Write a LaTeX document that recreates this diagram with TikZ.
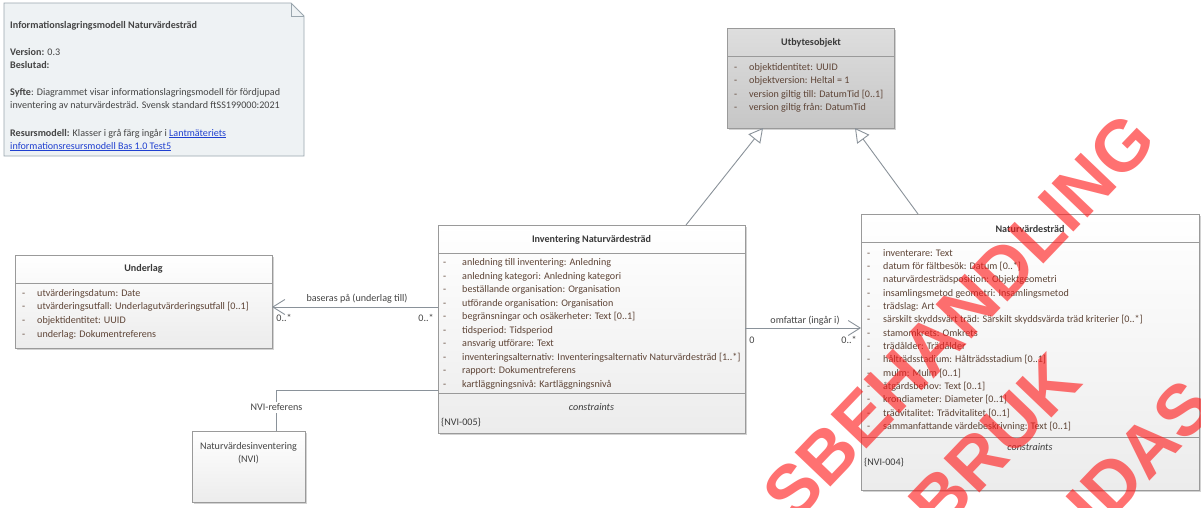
\documentclass[tikz,border=0pt]{standalone}
\usepackage{fontspec}
\setmainfont{Carlito}
\newfontfamily\wmfont{Liberation Sans}
\usetikzlibrary{arrows.meta,shadows}

\definecolor{bordercol}{HTML}{9A9A9A}
\definecolor{conncol}{HTML}{8A929A}
\definecolor{titlecol}{HTML}{3A3A3A}
\definecolor{attrcol}{HTML}{5E4436}
\definecolor{notefill}{HTML}{EEF2F4}
\definecolor{noteborder}{HTML}{9AA6AE}
\definecolor{notetext}{HTML}{454545}
\definecolor{linkcol}{HTML}{2040D0}
\definecolor{wmred}{HTML}{FF1A1A}
\definecolor{clsbottom}{HTML}{ECECEC}
\definecolor{graytop}{HTML}{DEDEDE}
\definecolor{graybottom}{HTML}{C6C6C6}

\newcommand\umlfont{\fontsize{10.1}{12}\selectfont}
\newcommand\wmsize{\fontsize{72}{72}\selectfont}

\begin{document}
\begin{tikzpicture}[x=1pt,y=-1pt,
  cls/.style={draw=bordercol, line width=0.8pt, rectangle, inner sep=0pt, outer sep=0pt,
    anchor=north west, top color=white, bottom color=clsbottom,
    drop shadow={shadow xshift=2pt, shadow yshift=-2pt, opacity=0.35, fill=gray}},
  graycls/.style={cls, top color=graytop, bottom color=graybottom},
  divider/.style={draw=bordercol, line width=0.8pt},
  ctitle/.style={font=\umlfont\bfseries, text=titlecol, inner sep=0pt},
  attr/.style={font=\umlfont, text=attrcol, inner sep=0pt, anchor=base west},
  dashmark/.style={font=\umlfont, text=attrcol, inner sep=0pt, anchor=base west},
  ctext/.style={font=\umlfont, text=titlecol, inner sep=0pt},
  notetxt/.style={font=\umlfont, text=notetext, inner sep=0pt, anchor=base west},
  conn/.style={draw=conncol, line width=0.9pt},
  gen/.style={conn, -{Triangle[length=14pt,width=15pt,fill=white,line width=0.9pt]}},
  assoc/.style={conn, -{Straight Barb[length=12pt,width=15pt,line width=0.9pt]}},
  clabel/.style={font=\umlfont, text=notetext, inner sep=1pt},
  wm/.style={font=\wmfont\bfseries\wmsize, text=wmred, text opacity=0.62, inner sep=0pt}
]
\useasboundingbox (0,0) rectangle (1201,507);
\fill[white] (0,0) rectangle (1201,507);
\clip (0,0) rectangle (1201,507);

% ---- information note with folded corner ----
\filldraw[fill=notefill, draw=noteborder, line width=0.8pt]
  (4,3) -- (291,3) -- (304,16) -- (304,156) -- (4,156) -- cycle;
\draw[draw=noteborder, line width=0.8pt] (291,3) -- (291,16) -- (304,16);
\node[notetxt] (n1) at (10,28) {\bfseries Informationslagringsmodell Naturvärdesträd};
\node[notetxt] (n2) at (10,55.5) {\textbf{Version:} 0.3};
\node[notetxt] (n3) at (10,68.5) {\textbf{Beslutad:}};
\node[notetxt] (n4) at (10,95) {\textbf{Syfte}: Diagrammet visar informationslagringsmodell för fördjupad};
\node[notetxt] (n5) at (10,108) {inventering av naturvärdesträd. Svensk standard ftSS199000:2021};
\node[notetxt] (n6) at (10,136) {\textbf{Resursmodell:} Klasser i grå färg ingår i \textcolor{linkcol}{\underline{Lantmäteriets}}};
\node[notetxt] (n7) at (10,149) {\textcolor{linkcol}{\underline{informationsresursmodell Bas 1.0 Test5}}};

% ---- Utbytesobjekt ----
\node[graycls, minimum width=167, minimum height=100] (utb) at (727,28) {};
\draw[divider] ([yshift=-28pt]utb.north west) -- ([yshift=-28pt]utb.north east);
\node[ctitle] (utb-t) at (811,43) {Utbytesobjekt};
\foreach \t [count=\i] in {objektidentitet: UUID, objektversion: Heltal = 1,
    version giltig till: DatumTid [0..1], version giltig från: DatumTid} {
  \node[dashmark] (utb-d\i) at (734, 56.5+13.5*\i) {-};
  \node[attr] (utb-a\i) at (749, 56.5+13.5*\i) {\t};
}

% ---- Underlag ----
\node[cls, minimum width=257, minimum height=93] (ul) at (15,255) {};
\draw[divider] ([yshift=-28pt]ul.north west) -- ([yshift=-28pt]ul.north east);
\node[ctitle] (ul-t) at (143.5,269) {Underlag};
\foreach \t [count=\i] in {utvärderingsdatum: Date,
    utvärderingsutfall: Underlagutvärderingsutfall [0..1],
    objektidentitet: UUID, underlag: Dokumentreferens} {
  \node[dashmark] (ul-d\i) at (22, 282.7+13.6*\i) {-};
  \node[attr] (ul-a\i) at (37, 282.7+13.6*\i) {\t};
}

% ---- Inventering Naturvärdesträd ----
\node[cls, minimum width=307, minimum height=208] (inv) at (438,225) {};
\draw[divider] ([yshift=-28pt]inv.north west) -- ([yshift=-28pt]inv.north east);
\draw[divider] ([yshift=-168pt]inv.north west) -- ([yshift=-168pt]inv.north east);
\node[ctitle] (inv-t) at (591.5,240) {Inventering Naturvärdesträd};
\foreach \t [count=\i] in {anledning till inventering: Anledning,
    anledning kategori: Anledning kategori,
    beställande organisation: Organisation,
    utförande organisation: Organisation,
    begränsningar och osäkerheter: Text [0..1],
    tidsperiod: Tidsperiod,
    ansvarig utförare: Text,
    inventeringsalternativ: Inventeringsalternativ Naturvärdesträd [1..*],
    rapport: Dokumentreferens,
    kartläggningsnivå: Kartläggningsnivå} {
  \node[dashmark] (inv-d\i) at (443, 252.5+13.45*\i) {-};
  \node[attr] (inv-a\i) at (462, 252.5+13.45*\i) {\t};
}
\node[ctext, font=\umlfont\itshape] (inv-c) at (591.5,407) {constraints};
\node[ctext, anchor=base west] (inv-n) at (441,425) {\{NVI-005\}};

% ---- Naturvärdesträd ----
\node[cls, minimum width=338, minimum height=276] (nat) at (861,214) {};
\draw[divider] ([yshift=-28pt]nat.north west) -- ([yshift=-28pt]nat.north east);
\draw[divider] ([yshift=-223pt]nat.north west) -- ([yshift=-223pt]nat.north east);
\node[ctitle] (nat-t) at (1030,229) {Naturvärdesträd};
\foreach \t [count=\i] in {inventerare: Text,
    datum för fältbesök: Datum [0..*],
    naturvärdesträdsposition: Objektgeometri,
    insamlingsmetod geometri: Insamlingsmetod,
    trädslag: Art,
    särskilt skyddsvärt träd: Särskilt skyddsvärda träd kriterier [0..*],
    stamomkrets: Omkrets,
    trädålder: Trädålder,
    hålträdsstadium: Hålträdsstadium [0..1],
    mulm: Mulm [0..1],
    åtgärdsbehov: Text [0..1],
    krondiameter: Diameter [0..1],
    trädvitalitet: Trädvitalitet [0..1],
    sammanfattande värdebeskrivning: Text [0..1]} {
  \node[dashmark] (nat-d\i) at (867, 242.7+13.33*\i) {-};
  \node[attr] (nat-a\i) at (883, 242.7+13.33*\i) {\t};
}
\node[ctext, font=\umlfont\itshape] (nat-c) at (1030,447) {constraints};
\node[ctext, anchor=base west] (nat-n) at (864,465) {\{NVI-004\}};

% ---- Naturvärdesinventering (NVI) ----
\node[cls, minimum width=113, minimum height=71] (nvi) at (192,431) {};
\node[ctext, align=center, font=\umlfont, text=notetext] (nvi-t) at (248.5,453)
  {Naturvärdesinventering\\[1.5pt](NVI)};

% ---- connectors ----
\draw[gen] ([xshift=248pt]inv.north west) -- ([xshift=36pt]utb.south west);
\draw[gen] ([xshift=57pt]nat.north west) -- ([xshift=128pt]utb.south west);

\draw[assoc] ([yshift=-82pt]inv.north west) -- ([yshift=-52pt]ul.north east);
\node[clabel] (l-bas) at (357,299) {baseras på (underlag till)};
\node[clabel] (m-bas1) at (284,318) {0..*};
\node[clabel] (m-bas2) at (426,318) {0..*};

\draw[assoc] ([yshift=-103pt]inv.north east) -- ([yshift=-114pt]nat.north west);
\node[clabel] (l-omf) at (805,321) {omfattar (ingår i)};
\node[clabel] (m-omf1) at (752,340) {0};
\node[clabel] (m-omf2) at (849,340) {0..*};

\draw[conn] ([yshift=-165pt]inv.north west) -| ([xshift=84pt]nvi.north west);
\node[clabel, fill=white, inner sep=2pt] (l-nvi) at (276.5,407) {NVI-referens};

% ---- watermark lettering ----
\node[wm, rotate=46.3] (wm1) at (959,317) {SBEHANDLING};
\node[wm, rotate=46.3] (wm2) at (995,442) {BRUK};
\node[wm, rotate=46.3] (wm3) at (1140,455) {IDAS};
\end{tikzpicture}
\end{document}
